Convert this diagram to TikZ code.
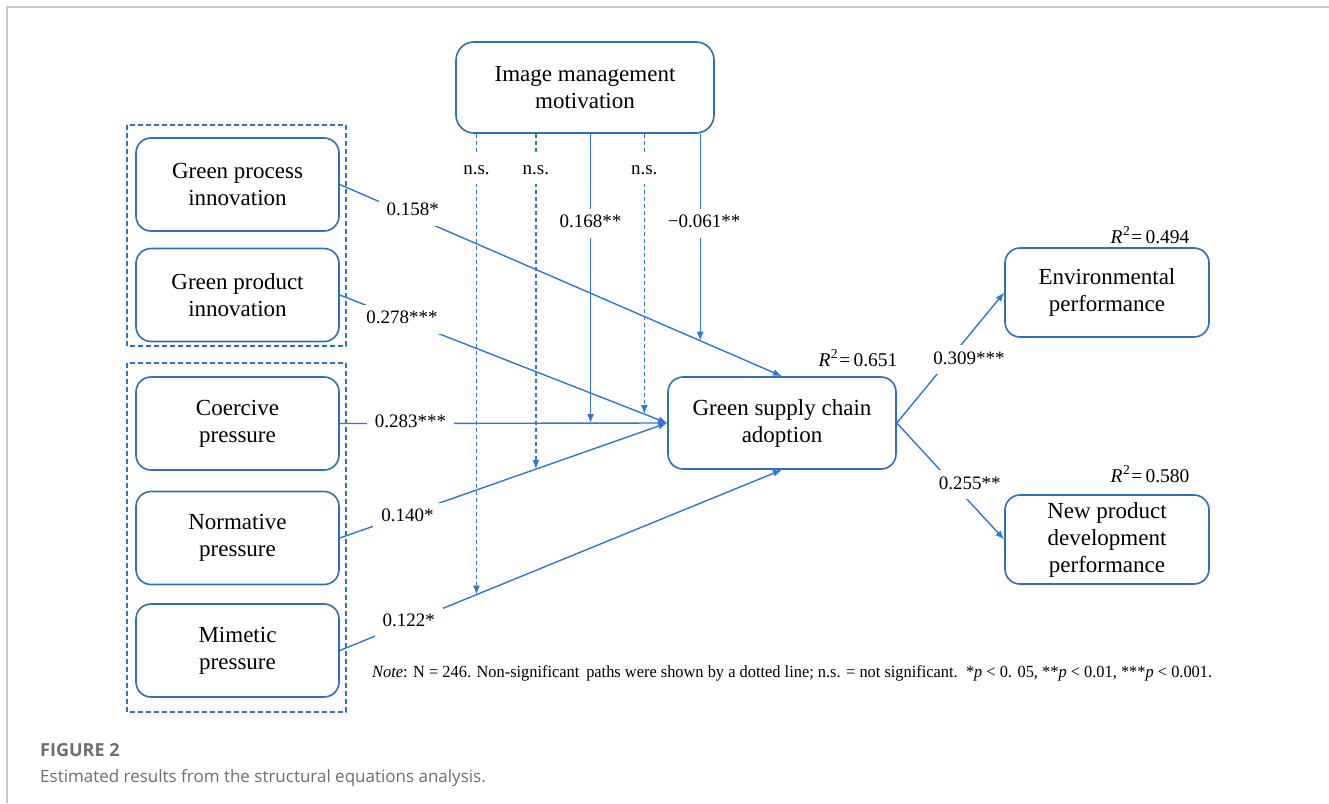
\documentclass[tikz,border=0pt]{standalone}
\usepackage{fontspec}
\setmainfont{Liberation Serif}
\newfontfamily\captionfont{Open Sans}
\usetikzlibrary{arrows.meta}
\definecolor{boxblue}{RGB}{47,110,186}
\definecolor{lineblue}{RGB}{45,120,214}
\definecolor{framegray}{RGB}{200,200,200}
\definecolor{capgray}{RGB}{110,110,112}
\tikzset{
    construct/.style={draw=boxblue, line width=1.6pt, rounded corners=15pt, align=center,
        font=\fontsize{23}{27}\selectfont, minimum width=203, minimum height=93, inner sep=0pt},
    group/.style={draw=boxblue!70!lineblue, line width=1.5pt, dash pattern=on 5pt off 3pt},
    effect/.style={draw=lineblue, line width=1.4pt, -{Latex[length=9pt,width=7pt]}},
    nseffect/.style={effect, dash pattern=on 4pt off 3pt},
    coef/.style={fill=white, font=\fontsize{19}{23}\selectfont, inner xsep=8pt, inner ysep=5pt,
        text height=14pt, text depth=5pt},
    rsq/.style={font=\fontsize{19.5}{24}\selectfont}
}

\begin{document}
\begin{tikzpicture}[x=1pt, y=-1pt]
    \useasboundingbox (0,0) rectangle (1329,803);
    % page frame
    \draw[framegray, line width=1.5pt] (1329,7) -- (7,7) -- (7,803);
    % constructs
    \node[construct, minimum width=258, minimum height=91, rounded corners=18pt] (img) at (585,87.5) {Image management\\motivation};
    \node[construct] (gpi) at (237.5,184.5) {Green process\\innovation};
    \node[construct] (gpd) at (237.5,295) {Green product\\innovation};
    \node[construct] (coe) at (237.5,423.5) {Coercive\\pressure};
    \node[construct] (nor) at (237.5,538) {Normative\\pressure};
    \node[construct] (mim) at (237.5,650.5) {Mimetic\\pressure};
    \node[construct, minimum width=228, minimum height=92] (gsc) at (782,423) {Green supply chain\\adoption};
    \node[construct, minimum width=204, minimum height=89] (env) at (1107,292.5) {Environmental\\performance};
    \node[construct, minimum width=204, minimum height=89] (npd) at (1107,539.5) {New product\\development\\performance};
    % dashed groups
    \draw[group] (127,125) rectangle (346,346);
    \draw[group] (127,363) rectangle (346,712);
    % direct effects
    \draw[effect] (gpi.east) -- coordinate[pos=0.815] (xgpi) node[coef, pos=0.165, yshift=5pt] {0.158*} (gsc.north);
    \draw[effect] (gpd.east) -- coordinate[pos=0.930] (xgpd) node[coef, pos=0.19] {0.278***} (gsc.west);
    \draw[effect] (coe.east) -- coordinate[pos=0.766] (xcoe) node[coef, pos=0.216] {0.283***} (gsc.west);
    \draw[effect] (nor.east) -- coordinate[pos=0.599] (xnor) node[coef, pos=0.207, yshift=-3pt] {0.140*} (gsc.west);
    \draw[effect] (mim.east) -- coordinate[pos=0.309] (xmim) node[coef, pos=0.156] {0.122*} (gsc.south);
    % moderating effects
    \draw[nseffect] (img.south -| xmim) -- node[coef, pos=0.078] {n.s.} (xmim);
    \draw[nseffect] (img.south -| xnor) -- node[coef, pos=0.107] {n.s.} (xnor);
    \draw[effect] (img.south -| xcoe) -- node[coef, pos=0.31] {0.168**} (xcoe);
    \draw[nseffect] (img.south -| xgpd) -- node[coef, pos=0.128] {n.s.} (xgpd);
    \draw[effect] (img.south -| xgpi) -- node[coef, pos=0.432, xshift=4pt] {−0.061**} (xgpi);
    % outcomes
    \draw[effect] (gsc.east) -- node[coef, pos=0.486, xshift=20pt] {0.309***} (env.west);
    \draw[effect] (gsc.east) -- node[coef, pos=0.53, xshift=16pt] {0.255**} (npd.west);
    \node[rsq] (rgsc) at (858,358) {\textit{R}\kern0.5pt\textsuperscript{2}\kern1pt=\,0.651};
    \node[rsq] (renv) at (1150,235) {\textit{R}\kern0.5pt\textsuperscript{2}\kern1pt=\,0.494};
    \node[rsq] (rnpd) at (1150,474) {\textit{R}\kern0.5pt\textsuperscript{2}\kern1pt=\,0.580};
    % note and caption
    \node[anchor=base west, inner sep=0pt] (note) at (372,677) {\resizebox{840pt}{12pt}{\fontsize{16}{19}\selectfont\textit{Note}: N = 246. Non-significant\, paths were shown by a dotted line; n.s. = not significant.\, *\textit{p} < 0. 05, **\textit{p} < 0.01, ***\textit{p} < 0.001.}};
    \node[anchor=base west, inner sep=0pt, text=capgray, font=\captionfont\bfseries\fontsize{18}{22}\selectfont] (fig) at (40,756) {FIGURE 2};
    \node[anchor=base west, inner sep=0pt, text=capgray, font=\captionfont\fontsize{17}{20}\selectfont] (cap) at (40,782) {Estimated results from the structural equations analysis.};
\end{tikzpicture}
\end{document}
